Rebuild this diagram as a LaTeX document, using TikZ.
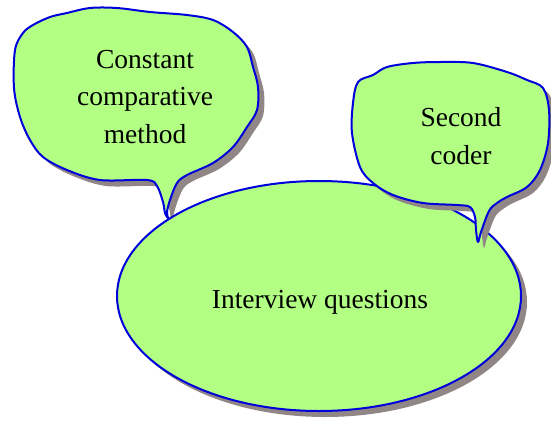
\documentclass[tikz,border=0pt]{standalone}
\usepackage{fontspec}
\setmainfont{Liberation Serif}
\usetikzlibrary{shapes.geometric}
\definecolor{bubblegreen}{RGB}{178,255,132}
\definecolor{bubbleblue}{RGB}{0,0,220}
\definecolor{shadowgray}{RGB}{145,134,134}
\tikzset{
  bubble/.style={fill=bubblegreen, draw=bubbleblue, line width=2pt, line join=round},
  label/.style={font=\fontsize{27.5}{37.5}\selectfont, align=center, text=black, inner sep=0pt},
}
\begin{document}
\begin{tikzpicture}[x=1pt, y=-1pt]
\useasboundingbox (0,0) rectangle (551,421);
% left callout path
\def\leftcallout{plot[smooth cycle, tension=0.55] coordinates {
 (23,33) (33,25) (50,17) (67,13) (90,8) (117,8) (150,12) (187,15) (213,20)
 (233,32) (247,47) (253,67) (258,87) (257,110) (247,127) (233,147) (213,163)
 (187,175) (177,183) (170,200) (167,212) (168,218) (165,213) (163,202) (157,186)
 (147,180) (100,180) (67,170) (43,157) (30,140) (20,117) (14,88) (15,50)}}
\def\rightcallout{plot[smooth cycle, tension=0.55] coordinates {
 (358,82) (373,75) (387,67) (413,63) (440,62) (473,63) (507,72) (527,80)
 (543,88) (549,110) (548,143) (540,170) (527,187) (507,197) (497,203)
 (489,211) (481,232) (478,242) (476,230) (475,217) (470,207) (457,205)
 (423,203) (393,195) (373,183) (360,167) (352,133) (353,103)}}
% left callout
\fill[shadowgray] [shift={(6,6)}] \leftcallout;
\draw[bubble] \leftcallout;
\node[label, anchor=base] (lefttext) at (145,143) {Constant\\comparative\\method};
% ellipse
\node[ellipse, fill=shadowgray, minimum width=404pt, minimum height=230pt, inner sep=0pt] (iqshadow) at (325,302) {};
\node[ellipse, bubble, minimum width=404pt, minimum height=230pt, inner sep=0pt] (iq) at (319,296) {};
\node[label, anchor=base] (iqtext) at (320,308) {Interview questions};
% right callout
\fill[shadowgray] [shift={(6,6)}] \rightcallout;
\draw[bubble] \rightcallout;
\node[label, anchor=base] (righttext) at (461,164) {Second\\coder};
\end{tikzpicture}
\end{document}
